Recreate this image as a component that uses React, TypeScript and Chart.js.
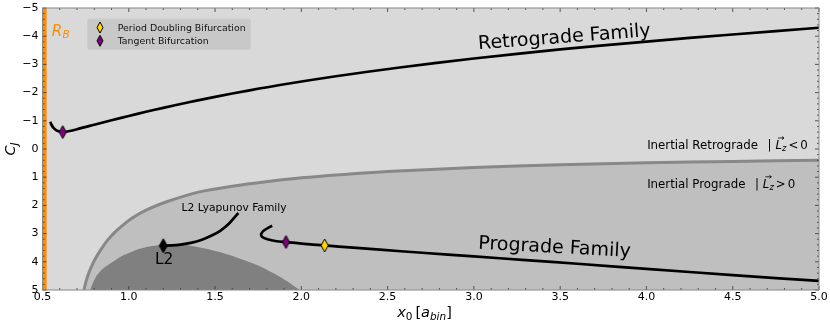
import React, { useEffect, useRef } from 'react';
import { Chart, registerables } from 'chart.js';

Chart.register(...registerables);

// ---------------- data ----------------
const retroX = [0.545, 0.552, 0.565, 0.585, 0.617, 0.65, 0.7, 0.8, 0.9, 1.0, 1.1, 1.2, 1.335, 1.5, 1.7, 1.876, 2.2, 2.57, 3.0, 3.5, 4.0, 4.5, 5.0];
const retroC = [-0.97, -0.86, -0.74, -0.65, -0.6, -0.63, -0.7, -0.86, -1.02, -1.17, -1.32, -1.46, -1.64, -1.85, -2.08, -2.27, -2.58, -2.89, -3.21, -3.53, -3.81, -4.06, -4.3];

const progX = [1.831, 1.81, 1.785, 1.768, 1.772, 1.799, 1.857, 1.911, 2.0, 2.135, 2.3, 2.455, 2.7, 3.0, 3.3, 3.6, 4.0, 4.5, 5.0];
const progC = [2.72, 2.79, 2.88, 3.0, 3.11, 3.19, 3.27, 3.3, 3.355, 3.42, 3.5, 3.57, 3.68, 3.81, 3.94, 4.07, 4.25, 4.47, 4.68];

const lyapX = [1.2, 1.25, 1.3, 1.36, 1.42, 1.48, 1.53, 1.58, 1.635];
const lyapC = [3.43, 3.42, 3.39, 3.33, 3.23, 3.07, 2.9, 2.65, 2.27];

// boundary between inertial retrograde / prograde regions
const zvcX = [0.74, 0.75, 0.765, 0.785, 0.81, 0.84, 0.875, 0.92, 0.97, 1.02, 1.1, 1.215, 1.41, 1.6, 1.795, 1.99, 2.3, 2.5, 3.0, 3.5, 4.0, 4.5, 5.0];
const zvcC = [5.0, 4.75, 4.45, 4.15, 3.85, 3.55, 3.25, 2.95, 2.68, 2.45, 2.17, 1.88, 1.52, 1.32, 1.16, 1.03, 0.88, 0.8, 0.66, 0.56, 0.49, 0.44, 0.4];

// dark (forbidden) region
const forbX = [0.776, 0.79, 0.81, 0.84, 0.87, 0.92, 0.968, 1.02, 1.065, 1.11, 1.16, 1.21, 1.25, 1.3, 1.35, 1.45, 1.55, 1.645, 1.75, 1.84, 1.92, 1.99];
const forbC = [5.0, 4.78, 4.53, 4.3, 4.15, 3.95, 3.77, 3.64, 3.54, 3.47, 3.42, 3.4, 3.39, 3.39, 3.42, 3.54, 3.7, 3.89, 4.13, 4.41, 4.7, 5.0];

const tangentX = [0.617, 1.911];
const tangentC = [-0.6, 3.3];
const perDoubX = [2.135];
const perDoubC = [3.42];
const l2X = [1.2];
const l2C = [3.43];

const rBinner = 0.5;
const rBouter = 0.524;

const xRange = [0.5, 5.0];
const yRange = [-5, 5];

const legendLabels = ['Period Doubling Bifurcation', 'Tangent Bifurcation'];
const retroLabel = 'Retrograde Family';
const progLabel = 'Prograde Family';
const lyapLabel = 'L2 Lyapunov Family';
const l2Label = 'L2';
const inRetroLabel = 'Inertial Retrograde';
const inProgLabel = 'Inertial Prograde';

const FONT = '"DejaVu Sans", sans-serif';

const zip = (xs: number[], ys: number[]) => xs.map((x, i) => ({ x, y: ys[i] }));

function diamond(w: number, h: number, fill: string) {
  const c = document.createElement('canvas');
  c.width = w + 2;
  c.height = h + 2;
  const g = c.getContext('2d')!;
  g.beginPath();
  g.moveTo((w + 2) / 2, 1);
  g.lineTo(w + 1, (h + 2) / 2);
  g.lineTo((w + 2) / 2, h + 1);
  g.lineTo(1, (h + 2) / 2);
  g.closePath();
  g.fillStyle = fill;
  g.fill();
  g.lineWidth = 1;
  g.strokeStyle = '#000';
  g.stroke();
  return c;
}

type Part = { t: string; f: string; dy?: number; gap?: number };

function drawParts(ctx: CanvasRenderingContext2D, parts: Part[], x: number, y: number, align: 'left' | 'center') {
  let total = 0;
  const widths = parts.map((p) => {
    ctx.font = p.f;
    const w = ctx.measureText(p.t).width;
    total += w + (p.gap || 0);
    return w;
  });
  let cx = align === 'center' ? x - total / 2 : x;
  const pos: number[] = [];
  parts.forEach((p, i) => {
    ctx.font = p.f;
    ctx.textAlign = 'left';
    ctx.textBaseline = 'alphabetic';
    ctx.fillText(p.t, cx, y + (p.dy || 0));
    pos.push(cx);
    cx += widths[i] + (p.gap || 0);
  });
  return pos;
}

export default function App() {
  const ref = useRef<HTMLCanvasElement>(null);

  useEffect(() => {
    const canvas = ref.current!;
    const gold = diamond(7, 13, '#ffd700');
    const purple = diamond(7, 13, '#800080');
    const black = diamond(8, 14, '#000000');
    const goldS = diamond(6, 11, '#ffd700');
    const purpleS = diamond(6, 11, '#800080');

    const decor = {
      id: 'decor',
      beforeDatasetsDraw(chart: any) {
        const { ctx, chartArea: a, scales } = chart;
        const x = scales.x;
        ctx.save();
        ctx.fillStyle = '#d9d9d9';
        ctx.fillRect(a.left, a.top, a.right - a.left, a.bottom - a.top);
        const b0 = x.getPixelForValue(rBinner);
        const b1 = x.getPixelForValue(rBouter);
        ctx.fillStyle = '#ff8c00';
        ctx.fillRect(b0, a.top, b1 - b0, a.bottom - a.top);
        ctx.restore();
      },
      afterDraw(chart: any) {
        const { ctx, chartArea: a, scales } = chart;
        const x = scales.x;
        const y = scales.y;
        ctx.save();
        ctx.fillStyle = '#000';

        // Family labels (rotated)
        const rotText = (txt: string, dx: number, dc: number, deg: number, size: number) => {
          ctx.save();
          ctx.translate(x.getPixelForValue(dx), y.getPixelForValue(dc));
          ctx.rotate((deg * Math.PI) / 180);
          ctx.font = `${size}px ${FONT}`;
          ctx.textAlign = 'center';
          ctx.textBaseline = 'alphabetic';
          ctx.fillText(txt, 0, 0);
          ctx.restore();
        };
        rotText(retroLabel, 3.527, -3.77, -4.4, 19);
        rotText(progLabel, 3.466, 3.68, 3.1, 19);

        ctx.font = `10.7px ${FONT}`;
        ctx.textAlign = 'left';
        ctx.textBaseline = 'alphabetic';
        ctx.fillText(lyapLabel, x.getPixelForValue(1.306), y.getPixelForValue(2.19));
        ctx.font = `15.4px ${FONT}`;
        ctx.textAlign = 'center';
        ctx.fillText(l2Label, x.getPixelForValue(1.205), y.getPixelForValue(4.09));

        // Inertial labels
        const inertial = (txt: string, sign: string, dc: number) => {
          const px = x.getPixelForValue(4.004);
          const py = y.getPixelForValue(dc);
          const pos = drawParts(ctx, [
            { t: txt, f: `11.8px ${FONT}`, gap: 9.5 },
            { t: '|', f: `11.8px ${FONT}`, gap: 4 },
            { t: 'L', f: `italic 11.8px ${FONT}` },
            { t: 'z', f: `italic 8.3px ${FONT}`, dy: 2, gap: 2 },
            { t: sign, f: `11.8px ${FONT}`, gap: 2 },
            { t: '0', f: `11.8px ${FONT}` },
          ], px, py, 'left');
          const lx = pos[2];
          const ay = py - 11;
          ctx.save();
          ctx.strokeStyle = '#000';
          ctx.lineWidth = 0.8;
          ctx.beginPath();
          ctx.moveTo(lx + 2.5, ay);
          ctx.lineTo(lx + 8.5, ay);
          ctx.moveTo(lx + 6.5, ay - 1.5);
          ctx.lineTo(lx + 8.5, ay);
          ctx.lineTo(lx + 6.5, ay + 1.5);
          ctx.stroke();
          ctx.restore();
        };
        inertial(inRetroLabel, '<', 0.0);
        inertial(inProgLabel, '>', 1.375);

        // R_B label
        ctx.fillStyle = '#ff8c00';
        drawParts(ctx, [
          { t: 'R', f: `italic 15px ${FONT}`, gap: 0.5 },
          { t: 'B', f: `italic 10.5px ${FONT}`, dy: 2 },
        ], x.getPixelForValue(0.553), y.getPixelForValue(-4.0), 'left');
        ctx.fillStyle = '#000';

        // legend
        const lx0 = a.left + 45;
        const ly0 = a.top + 11;
        const lw = 163;
        const lh = 30.5;
        ctx.save();
        ctx.beginPath();
        ctx.roundRect(lx0, ly0, lw, lh, 2);
        ctx.fillStyle = '#c8c8c8';
        ctx.fill();
        ctx.strokeStyle = '#cdcdcd';
        ctx.lineWidth = 1;
        ctx.stroke();
        ctx.restore();
        const legImgs = [goldS, purpleS];
        legendLabels.forEach((lab, i) => {
          const cy = ly0 + 8.5 + i * 13.3;
          const img = legImgs[i];
          ctx.drawImage(img, lx0 + 12.5 - img.width / 2, cy - img.height / 2);
          ctx.font = `9.4px ${FONT}`;
          ctx.textAlign = 'left';
          ctx.textBaseline = 'alphabetic';
          ctx.fillStyle = '#111';
          ctx.fillText(lab, lx0 + 30.2, cy + 3.3);
        });

        // ticks
        ctx.strokeStyle = '#333';
        ctx.lineWidth = 0.8;
        ctx.beginPath();
        for (let i = 5; i <= 50; i++) {
          const px = x.getPixelForValue(i / 10);
          const L = i % 5 === 0 ? 4 : 2;
          ctx.moveTo(px, a.bottom);
          ctx.lineTo(px, a.bottom - L);
          ctx.moveTo(px, a.top);
          ctx.lineTo(px, a.top + L);
        }
        for (let i = -25; i <= 25; i++) {
          const py = y.getPixelForValue(i / 5);
          const L = i % 5 === 0 ? 4 : 2;
          ctx.moveTo(a.left, py);
          ctx.lineTo(a.left + L, py);
          ctx.moveTo(a.right, py);
          ctx.lineTo(a.right - L, py);
        }
        ctx.stroke();

        // spines
        ctx.strokeStyle = '#888';
        ctx.lineWidth = 1;
        ctx.strokeRect(a.left, a.top, a.right - a.left, a.bottom - a.top);

        // axis titles
        ctx.fillStyle = '#000';
        drawParts(ctx, [
          { t: 'x', f: `italic 14.5px ${FONT}` },
          { t: '0', f: `10.5px ${FONT}`, dy: 3, gap: 3 },
          { t: '[', f: `14.5px ${FONT}` },
          { t: 'a', f: `italic 14.5px ${FONT}` },
          { t: 'bin', f: `italic 10.5px ${FONT}`, dy: 3 },
          { t: ']', f: `14.5px ${FONT}` },
        ], 424.5, 316.5, 'center');

        ctx.save();
        ctx.translate(15, (a.top + a.bottom) / 2);
        ctx.rotate(-Math.PI / 2);
        drawParts(ctx, [
          { t: 'C', f: `italic 14.5px ${FONT}` },
          { t: 'J', f: `italic 10.5px ${FONT}`, dy: 3 },
        ], 0, 0, 'center');
        ctx.restore();

        ctx.restore();
      },
    };

    const lineDs = (data: any[], extra: any) => ({
      data,
      showLine: true,
      pointRadius: 0,
      pointHoverRadius: 0,
      tension: 0.3,
      fill: false,
      ...extra,
    });

    const chart = new Chart(canvas, {
      type: 'scatter',
      data: {
        datasets: [
          lineDs(zip(zvcX, zvcC), { label: 'boundary', borderColor: '#888888', borderWidth: 3, backgroundColor: '#bfbfbf', fill: { value: 5 }, order: 10 }),
          lineDs(zip(forbX, forbC), { label: 'forbidden', borderColor: 'rgba(0,0,0,0)', borderWidth: 0, backgroundColor: '#808080', fill: { value: 5 }, order: 9 }),
          lineDs(zip(retroX, retroC), { label: retroLabel, borderColor: '#000', borderWidth: 2.7, order: 5 }),
          lineDs(zip(progX, progC), { label: progLabel, borderColor: '#000', borderWidth: 2.7, order: 5 }),
          lineDs(zip(lyapX, lyapC), { label: lyapLabel, borderColor: '#000', borderWidth: 2.7, order: 5 }),
          { label: legendLabels[0], data: zip(perDoubX, perDoubC), pointStyle: gold, pointRadius: 7, showLine: false, order: 1 },
          { label: legendLabels[1], data: zip(tangentX, tangentC), pointStyle: purple, pointRadius: 7, showLine: false, order: 1 },
          { label: l2Label, data: zip(l2X, l2C), pointStyle: black, pointRadius: 7, showLine: false, order: 1 },
        ] as any,
      },
      options: {
        animation: false,
        responsive: false,
        devicePixelRatio: 1,
        events: [],
        layout: { padding: { top: 5, right: 11, left: 0, bottom: 0 } },
        plugins: { legend: { display: false }, tooltip: { enabled: false } },
        scales: {
          x: {
            type: 'linear',
            min: xRange[0],
            max: xRange[1],
            grid: { display: false, drawTicks: false },
            border: { display: false },
            ticks: {
              stepSize: 0.5,
              padding: 1,
              color: '#000',
              font: { family: 'DejaVu Sans', size: 11 },
              callback: (v: any) => Number(v).toFixed(1),
              maxRotation: 0,
              autoSkip: false,
            },
            afterFit: (s: any) => {
              s.height = 34;
              s.paddingLeft = 0;
              s.paddingRight = 0;
            },
          },
          y: {
            type: 'linear',
            min: yRange[0],
            max: yRange[1],
            reverse: true,
            grid: { display: false, drawTicks: false },
            border: { display: false },
            ticks: {
              stepSize: 1,
              padding: 4,
              color: '#000',
              font: { family: 'DejaVu Sans', size: 11 },
              callback: (v: any) => (Number(v) < 0 ? '\u2212' + Math.abs(Number(v)) : String(v)),
              autoSkip: false,
            },
            afterFit: (s: any) => {
              s.width = 42.5;
              s.paddingTop = 0;
              s.paddingBottom = 0;
            },
          },
        },
      } as any,
      plugins: [decor],
    });
    return () => chart.destroy();
  }, []);

  return (
    <div style={{ position: 'absolute', left: 0, top: 0, width: 830, height: 324, background: '#fff' }}>
      <canvas ref={ref} width={830} height={324} style={{ display: 'block', width: 830, height: 324 }} />
    </div>
  );
}
